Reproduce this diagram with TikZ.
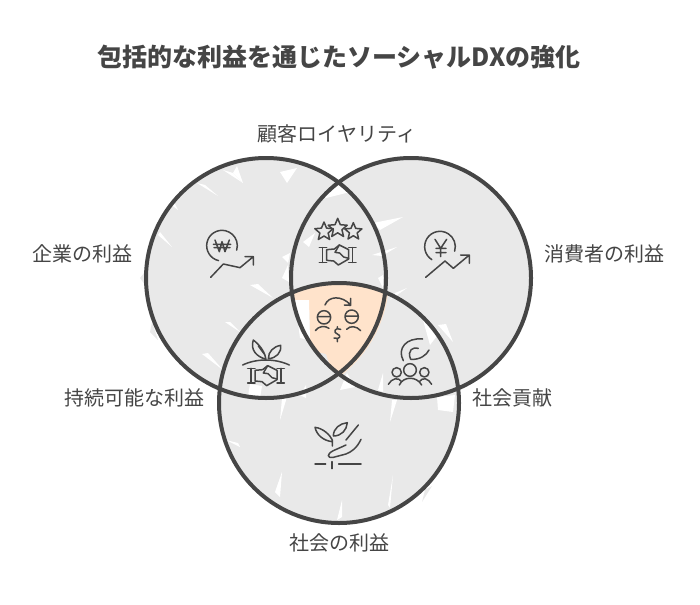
\documentclass[tikz,border=0pt]{standalone}
\usepackage{fontspec}
\setmainfont{Noto Sans CJK JP}
\definecolor{inkgray}{HTML}{454545}
\definecolor{fillgray}{HTML}{E9E9E9}
\definecolor{fillorange}{HTML}{FFE3CB}
\tikzset{
	ring/.style={draw=inkgray, line width=4pt},
	iconline/.style={draw=inkgray, line width=1.5pt, line cap=round, line join=round, fill=none},
	caption/.style={text=inkgray, font=\fontsize{20}{24}\selectfont, inner sep=0pt},
	headline/.style={text=inkgray, font=\fontsize{25}{30}\selectfont\bfseries, inner sep=0pt},
	zoomed/.style={shift={(#1)}, x=1/3*1pt, y=-1/3*1pt}
}
\newcommand{\handshake}{% drawn around the origin
	\draw[iconline] (-55,-22)--(-33,-22) (-45,-22)--(-45,22) (-55,22)--(-33,22);
	\draw[iconline] (55,-22)--(33,-22) (45,-22)--(45,22) (55,22)--(33,22);
	\draw[iconline] (-33,-16)--(-10,-18)--(5,-30)--(33,-16)--(33,12)--(2,30)--(-12,18)--(-33,16)--cycle;
	\draw[iconline] (5,-30)--(-8,-8)--(6,-6)--(18,6)--(33,10);
}
\begin{document}
\begin{tikzpicture}[x=1pt, y=-1pt, line cap=round, line join=round]
	\useasboundingbox (0,0) rectangle (700,604);
	% circle fills
	\fill[fillgray] (266,278) circle (120);
	\fill[fillgray] (411,278) circle (120);
	\fill[fillgray] (339,403) circle (120);
	% rough grey bit outside the rings
	\fill[fillgray] (148,268)--(140,278)--(150,292)--cycle;
	\fill[fillgray] (152,322)--(158,340)--(150,332)--cycle;
	\fill[fillgray] (425,490)--(432,486)--(422,502)--cycle;
	% white gaps of the hachure
	\foreach \ax/\ay/\bx/\by/\cx/\cy in {
		197/183/218/196/205/185,
		223/170/243/183/233/173,
		233/173/237/166/243/183,
		280/172/287/183/297/168,
		158/235/172/247/160/232,
		165/200/178/210/172/198,
		250/285/273/298/258/284,
		282/257/290/253/288/263,
		282/278/288/265/289/282,
		303/242/315/233/309/247,
		318/200/350/192/338/180,
		373/223/403/217/380/230,
		372/255/397/247/382/256,
		378/278/383/275/383/288,
		395/293/407/288/390/300,
		225/322/240/332/230/322,
		202/354/223/370/208/353,
		347/373/355/387/340/390,
		378/390/383/373/383/392,
		423/320/440/332/430/345,
		438/325/453/342/446/324,
		226/440/238/443/240/447,
		280/497/275/492/282/472,
		337/520/342/500/342/517,
		390/508/393/475/388/505,
		280/420/287/397/282/398,
		390/422/397/400/392/400,
		300/395/306/385/306/398}{
		\fill[white] (\ax,\ay)--(\bx,\by)--(\cx,\cy)--cycle;
	}
	\fill[white] (437,397)--(455,395)--(453,412)--(438,410)--cycle;
	\fill[white] (250,384)--(262,386)--(260,398)--(248,396)--cycle;
	% orange middle
	\begin{scope}
		\clip (339,403) circle (120);
		\clip (411,278) circle (121);
		\clip (266,278) circle (123);
		\fill[fillorange] (290,270)--(400,270)--(400,312)--(378,355)--(345,375)--(333,375)--(326,354)--(310,350)--(309,300)--(290,300)--cycle;
	\end{scope}
	\fill[white] (295,300)--(309,300)--(310,340)--(300,338)--cycle;
	% rings
	\draw[ring] (266,278) circle (120);
	\draw[ring] (411,278) circle (120);
	\draw[ring] (339,403) circle (120);
	% won icon
	\begin{scope}[zoomed={190,200}]
		\draw[iconline] ([shift={(96,137)}]103:46) arc[start angle=103, end angle=377, radius=46];
		\draw[iconline] (75,120)--(88,155)--(96,125)--(105,155)--(118,120) (70,133)--(122,133) (72,143)--(120,143);
		\draw[iconline] (62,232)--(100,192)--(150,203)--(190,170) (165,170)--(190,170)--(190,195);
	\end{scope}
	% yen icon
	\begin{scope}[zoomed={190,200}]
		\draw[iconline] ([shift={(750,140)}]122:46) arc[start angle=122, end angle=377, radius=46];
		\draw[iconline] (735,118)--(752,145)--(770,118) (752,145)--(752,170) (738,145)--(768,145) (738,158)--(768,158);
		\draw[iconline] (707,232)--(765,183)--(790,205)--(838,165) (812,165)--(838,165)--(838,190);
	\end{scope}
	% stars and handshake
	\begin{scope}[zoomed={190,200}]
		\foreach \sx/\sy/\sr in {402/95/29, 443/85/30, 490/95/27}{
			\draw[iconline] (\sx,\sy-\sr)
				\foreach \k in {1,...,9}{
					-- ({\sx+\sr*(1-0.55*mod(\k,2))*sin(36*\k)},{\sy-\sr*(1-0.55*mod(\k,2))*cos(36*\k)})
				} -- cycle;
		}
		\begin{scope}[shift={(443,165)}]
			\handshake
		\end{scope}
	\end{scope}
	% middle icon
	\begin{scope}[zoomed={190,200}]
		\draw[iconline] (405,315) .. controls (415,288) and (455,285) .. (482,315) (463,315)--(482,316)--(482,295);
		\draw[iconline] (402,352) circle (20) (485,350) circle (20) (383,350)--(421,350) (466,348)--(504,348);
		\draw[iconline] (376,392) .. controls (385,378) and (405,376) .. (417,385);
		\draw[iconline] (470,388) .. controls (480,376) and (500,378) .. (512,392);
		\draw[iconline] (452,388) .. controls (435,380) and (428,398) .. (442,402) .. controls (455,406) and (450,420) .. (432,414) (442,380)--(442,385) (442,418)--(442,425);
	\end{scope}
	% plant and handshake
	\begin{scope}[zoomed={190,200}]
		\draw[iconline] (158,495) .. controls (200,475) and (255,475) .. (298,495);
		\draw[iconline] (228,478) .. controls (225,460) and (215,440) .. (190,420) .. controls (180,450) and (200,470) .. (228,478) (205,438)--(225,465);
		\draw[iconline] (235,476) .. controls (235,455) and (250,440) .. (272,436) .. controls (275,458) and (258,475) .. (235,476);
		\begin{scope}[shift={(228,527)}]
			\handshake
		\end{scope}
	\end{scope}
	% people icon
	\begin{scope}[zoomed={190,200}]
		\draw[iconline] (640,482) .. controls (620,445) and (650,412) .. (698,417);
		\draw[iconline] (662,478) .. controls (650,450) and (670,440) .. (685,445) (662,478) .. controls (690,480) and (710,465) .. (717,450);
		\draw[iconline] (660,510) circle (19) (620,517) circle (14) (703,517) circle (14);
		\draw[iconline] (595,553) .. controls (605,535) and (625,530) .. (635,545);
		\draw[iconline] (628,555) .. controls (640,528) and (680,528) .. (695,555);
		\draw[iconline] (688,545) .. controls (698,530) and (715,535) .. (725,553);
	\end{scope}
	% seedling icon
	\begin{scope}[zoomed={220,380}]
		\draw[iconline] (337,198)--(337,180) (337,180) .. controls (330,165) and (310,145) .. (285,142) .. controls (290,165) and (310,182) .. (337,185);
		\draw[iconline] (340,168) .. controls (340,145) and (360,130) .. (382,128) .. controls (380,150) and (365,168) .. (340,168);
		\draw[iconline] (378,180)--(415,135);
		\draw[iconline] (423,178) .. controls (410,205) and (395,215) .. (378,222) -- (340,232) .. controls (320,235) and (320,222) .. (340,212) -- (378,195);
		\draw[iconline] (285,252)--(317,252) (356,252)--(423,252) (336,245)--(336,266);
	\end{scope}
	% texts
	\node[headline] (titlenode) at (339,57) {包括的な利益を通じたソーシャルDXの強化};
	\node[caption] (loyalty) at (337,134) {顧客ロイヤリティ};
	\node[caption] (company) at (82,254) {企業の利益};
	\node[caption] (consumer) at (604,254) {消費者の利益};
	\node[caption] (sustain) at (134,398) {持続可能な利益};
	\node[caption] (contrib) at (512,398) {社会貢献};
	\node[caption] (society) at (339,543) {社会の利益};
\end{tikzpicture}
\end{document}
